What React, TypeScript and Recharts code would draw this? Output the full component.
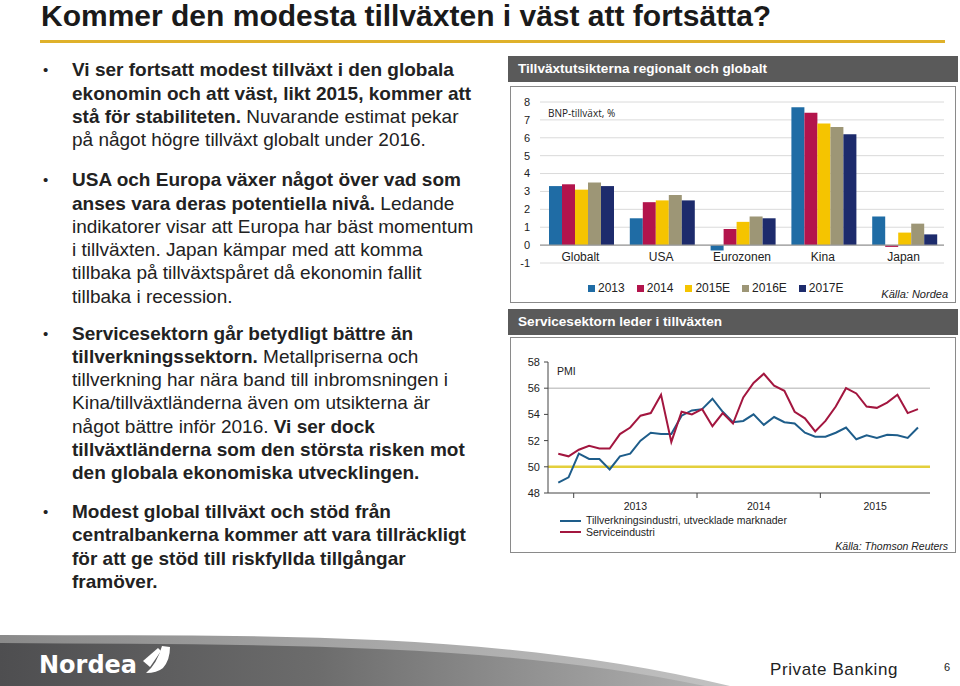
import React from 'react'
import { BarChart, Bar, XAxis, YAxis, CartesianGrid, ReferenceLine, LineChart, Line } from 'recharts'

// GDP growth, % (bar chart)
const regions = ['Globalt', 'USA', 'Eurozonen', 'Kina', 'Japan']
const years = ['2013', '2014', '2015E', '2016E', '2017E']
const yearColors = ['#1f6ca5', '#b3144c', '#f5c400', '#9d9676', '#1d2b6c']
const gdp2013 = [3.3, 1.5, -0.3, 7.7, 1.6]
const gdp2014 = [3.4, 2.4, 0.9, 7.4, -0.1]
const gdp2015E = [3.1, 2.5, 1.3, 6.8, 0.7]
const gdp2016E = [3.5, 2.8, 1.6, 6.6, 1.2]
const gdp2017E = [3.3, 2.5, 1.5, 6.2, 0.6]
const gdpTicks = [-1, 0, 1, 2, 3, 4, 5, 6, 7, 8]

// PMI, monthly (line chart)
const months = [
  '2012-11', '2012-12',
  '2013-01', '2013-02', '2013-03', '2013-04', '2013-05', '2013-06',
  '2013-07', '2013-08', '2013-09', '2013-10', '2013-11', '2013-12',
  '2014-01', '2014-02', '2014-03', '2014-04', '2014-05', '2014-06',
  '2014-07', '2014-08', '2014-09', '2014-10', '2014-11', '2014-12',
  '2015-01', '2015-02', '2015-03', '2015-04', '2015-05', '2015-06',
  '2015-07', '2015-08', '2015-09', '2015-10',
]
const manufacturing = [
  48.8, 49.2, 51.0, 50.6, 50.6, 49.8, 50.8, 51.0, 52.0, 52.6, 52.5, 52.5,
  53.9, 54.3, 54.4, 55.2, 54.2, 53.4, 53.5, 54.0, 53.2, 53.8, 53.4, 53.3,
  52.6, 52.3, 52.3, 52.6, 53.0, 52.1, 52.4, 52.2, 52.45, 52.4, 52.2, 53.0,
]
const services = [
  51.0, 50.8, 51.3, 51.6, 51.4, 51.4, 52.5, 53.0, 53.9, 54.1, 55.5, 51.9,
  54.2, 54.0, 54.4, 53.1, 54.1, 53.3, 55.3, 56.4, 57.1, 56.2, 55.8, 54.2,
  53.7, 52.7, 53.5, 54.6, 56.0, 55.6, 54.6, 54.5, 54.9, 55.5, 54.1, 54.4,
]
const pmiTicks = [48, 50, 52, 54, 56, 58]
const yearLabels = ['2013', '2014', '2015']
const seriesNames = ['Tillverkningsindustri, utvecklade marknader', 'Serviceindustri']
const seriesColors = ['#1e5d8a', '#a3163f']

const gdpRows = regions.map((region, i) => ({
  region,
  y2013: gdp2013[i],
  y2014: gdp2014[i],
  y2015E: gdp2015E[i],
  y2016E: gdp2016E[i],
  y2017E: gdp2017E[i],
}))
const gdpKeys = ['y2013', 'y2014', 'y2015E', 'y2016E', 'y2017E']

const pmiRows = months.map((m, i) => ({ i, m, mfg: manufacturing[i], svc: services[i] }))
const xMin = -1
const xMax = 36.17
const boundaries = yearLabels.map((y) => months.indexOf(`${y}-01`) - 0.5)
const labelPos = boundaries.map((b, k) => ((k < boundaries.length - 1 ? boundaries[k + 1] : xMax) + b) / 2)

const FONT = '"Liberation Sans", Arial, Helvetica, sans-serif'

const CategoryTick = (props: any) => {
  const { x, y, payload } = props
  return (
    <text x={x} y={y - 6} dy="0.35em" textAnchor="middle" fontSize={12} fill="#222" fontFamily={FONT}>
      {payload.value}
    </text>
  )
}

const YearTick = (props: any) => {
  const { x, y, payload } = props
  const v = payload.value
  const k = labelPos.indexOf(v)
  if (k < 0) return <line x1={x} x2={x} y1={y} y2={y + 5} stroke="#444" strokeWidth={1} />
  return (
    <text x={x} y={y + 13} dy="0.35em" textAnchor="middle" fontSize={10.5} fill="#222" fontFamily={FONT}>
      {yearLabels[k]}
    </text>
  )
}

const abs = (left: number, top: number, extra: React.CSSProperties = {}): React.CSSProperties => ({
  position: 'absolute',
  left,
  top,
  ...extra,
})

const B = ({ children }: { children: React.ReactNode }) => <b>{children}</b>

function Bullet({ top, lines }: { top: number; lines: React.ReactNode[] }) {
  return (
    <>
      <div style={abs(43, top, { fontSize: 15, lineHeight: '23.3px', color: '#222' })}>•</div>
      <div style={abs(72, top, { fontSize: 19, lineHeight: '23.3px', color: '#222', whiteSpace: 'nowrap' })}>
        {lines.map((l, i) => (
          <div key={i}>{l}</div>
        ))}
      </div>
    </>
  )
}

function Header({ top, title }: { top: number; title: string }) {
  return (
    <div
      style={abs(508, top, {
        width: 450,
        height: 26,
        background: '#5a5a5a',
        color: '#fff',
        fontWeight: 'bold',
        fontSize: 13.6,
        lineHeight: '26px',
        paddingLeft: 10,
        boxSizing: 'border-box',
      })}
    >
      {title}
    </div>
  )
}

function GdpChart() {
  return (
    <>
      <Header top={56} title="Tillväxtutsikterna regionalt och globalt" />
      <div style={abs(510, 86, { width: 446, height: 217, border: '1px solid #8a8a8a', boxSizing: 'border-box' })} />
      <div style={abs(509, 87)}>
        <BarChart
          width={447}
          height={212}
          data={gdpRows}
          margin={{ top: 15, right: 12, bottom: 0, left: 0 }}
          barCategoryGap={9}
          barGap={0}
        >
          <CartesianGrid vertical={false} stroke="#dadada" />
          <XAxis
            dataKey="region"
            axisLine={false}
            tickLine={false}
            tickSize={0}
            tickMargin={0}
            height={36}
            interval={0}
            tick={(p: any) => <CategoryTick {...p} />}
          />
          <YAxis
            domain={[-1, 8]}
            ticks={gdpTicks}
            interval={0}
            width={31}
            axisLine={false}
            tickLine={false}
            tickSize={0}
            tickMargin={10}
            tick={{ fontSize: 11, fill: '#222', fontFamily: FONT }}
          />
          {gdpKeys.map((k, i) => (
            <Bar key={k} dataKey={k} name={years[i]} fill={yearColors[i]} isAnimationActive={false} />
          ))}
          <ReferenceLine y={0} stroke="#9a9a9a" strokeWidth={1.2} />
        </BarChart>
      </div>
      <div style={abs(548, 106, { fontSize: 10, fontFamily: '"Open Sans", sans-serif', color: '#222' })}>
        BNP-tillväxt, %
      </div>
      <div style={abs(588, 281, { display: 'flex', fontSize: 12, lineHeight: '14px', color: '#222' })}>
        {years.map((y, i) => (
          <div key={y} style={{ display: 'flex', alignItems: 'center', marginRight: 12 }}>
            <span style={{ width: 7, height: 7, background: yearColors[i], marginRight: 3, display: 'inline-block' }} />
            {y}
          </div>
        ))}
      </div>
      <div style={abs(848, 288, { width: 100, textAlign: 'right', fontSize: 11, fontStyle: 'italic', color: '#222' })}>
        Källa: Nordea
      </div>
    </>
  )
}

function PmiChart() {
  return (
    <>
      <Header top={309} title="Servicesektorn leder i tillväxten" />
      <div style={abs(510, 337, { width: 446, height: 216, border: '1px solid #8a8a8a', boxSizing: 'border-box' })} />
      <div style={abs(510, 338)}>
        <LineChart width={446} height={180} data={pmiRows} margin={{ top: 24, right: 26, bottom: 5, left: 0 }}>
          <ReferenceLine y={56} stroke="#c9c9c9" strokeWidth={1.5} />
          <ReferenceLine y={50} stroke="#e3cf3c" strokeWidth={2.5} />
          <XAxis
            type="number"
            dataKey="i"
            domain={[xMin, xMax]}
            ticks={[...boundaries, ...labelPos]}
            interval={0}
            height={20}
            stroke="#444"
            tickLine={false}
            tickSize={0}
            tickMargin={0}
            tick={(p: any) => <YearTick {...p} />}
          />
          <YAxis
            domain={[48, 58]}
            ticks={pmiTicks}
            interval={0}
            width={38}
            stroke="#444"
            tickSize={4}
            tickMargin={4}
            tick={{ fontSize: 11, fill: '#222', fontFamily: FONT }}
          />
          <Line dataKey="mfg" name={seriesNames[0]} stroke={seriesColors[0]} strokeWidth={2} dot={false} isAnimationActive={false} />
          <Line dataKey="svc" name={seriesNames[1]} stroke={seriesColors[1]} strokeWidth={2} dot={false} isAnimationActive={false} />
        </LineChart>
      </div>
      <div style={abs(557, 365, { fontSize: 10.5, color: '#222' })}>PMI</div>
      <div style={abs(560, 515, { fontSize: 10.5, lineHeight: '11.5px', color: '#222' })}>
        {seriesNames.map((n, i) => (
          <div key={n} style={{ display: 'flex', alignItems: 'center' }}>
            <span style={{ width: 21, height: 2, background: seriesColors[i], marginRight: 5, display: 'inline-block' }} />
            {n}
          </div>
        ))}
      </div>
      <div style={abs(798, 540, { width: 150, textAlign: 'right', fontSize: 10.5, fontStyle: 'italic', color: '#222' })}>
        Källa: Thomson Reuters
      </div>
    </>
  )
}

function Footer() {
  return (
    <svg style={abs(0, 620)} width={960} height={66} viewBox="0 620 960 66">
      <defs>
        <linearGradient id="stripe" x1="0" x2="1" y1="0" y2="0">
          <stop offset="0" stopColor="#8a8a8a" />
          <stop offset="1" stopColor="#c2c2c2" />
        </linearGradient>
        <linearGradient id="band" x1="0" x2="1" y1="0" y2="0">
          <stop offset="0" stopColor="#4e4e50" />
          <stop offset="0.45" stopColor="#6c6c6c" />
          <stop offset="1" stopColor="#b0b0b0" />
        </linearGradient>
      </defs>
      <path d="M0,635 C250,636 500,630 730,686 L0,686 Z" fill="url(#stripe)" />
      <path d="M0,643 C250,645 490,641 705,686 L0,686 Z" fill="url(#band)" />
      <text x={39} y={673} fill="#fff" fontSize={24} fontWeight="bold" fontFamily='"DejaVu Sans", sans-serif'>
        Nordea
      </text>
      <path d="M143,661 L158,648 L161,651 L150,667 Z" fill="#fff" />
      <path d="M162,646 L170,647 Q170,660 163,668 Q157,673 146,673 Q157,664 162,646 Z" fill="#fff" />
      <text x={770} y={675} fill="#222" fontSize={17} letterSpacing={0.6} fontFamily={FONT}>
        Private Banking
      </text>
      <text x={944} y={671} fill="#222" fontSize={11} fontFamily={FONT}>
        6
      </text>
    </svg>
  )
}

export default function App() {
  return (
    <div
      style={{
        position: 'absolute',
        left: 0,
        top: 0,
        width: 960,
        height: 686,
        overflow: 'hidden',
        background: '#fff',
        fontFamily: FONT,
      }}
    >
      <div style={abs(41, -2, { fontSize: 30, fontWeight: 'bold', color: '#1a1a1a', whiteSpace: 'nowrap', lineHeight: '36px' })}>
        Kommer den modesta tillväxten i väst att fortsätta?
      </div>
      <div style={abs(40, 39.5, { width: 905, height: 3, background: '#dfb12a' })} />

      <Bullet
        top={58.3}
        lines={[
          <B>Vi ser fortsatt modest tillväxt i den globala</B>,
          <B>ekonomin och att väst, likt 2015, kommer att</B>,
          <>
            <B>stå för stabiliteten.</B> Nuvarande estimat pekar
          </>,
          'på något högre tillväxt globalt under 2016.',
        ]}
      />
      <Bullet
        top={168.3}
        lines={[
          <B>USA och Europa växer något över vad som</B>,
          <>
            <B>anses vara deras potentiella nivå.</B> Ledande
          </>,
          'indikatorer visar att Europa har bäst momentum',
          'i tillväxten. Japan kämpar med att komma',
          'tillbaka på tillväxtspåret då ekonomin fallit',
          'tillbaka i recession.',
        ]}
      />
      <Bullet
        top={321.6}
        lines={[
          <B>Servicesektorn går betydligt bättre än</B>,
          <>
            <B>tillverkningssektorn.</B> Metallpriserna och
          </>,
          'tillverkning har nära band till inbromsningen i',
          'Kina/tillväxtländerna även om utsikterna är',
          <>
            något bättre inför 2016. <B>Vi ser dock</B>
          </>,
          <B>tillväxtländerna som den största risken mot</B>,
          <B>den globala ekonomiska utvecklingen.</B>,
        ]}
      />
      <Bullet
        top={500}
        lines={[
          <B>Modest global tillväxt och stöd från</B>,
          <B>centralbankerna kommer att vara tillräckligt</B>,
          <B>för att ge stöd till riskfyllda tillgångar</B>,
          <B>framöver.</B>,
        ]}
      />

      <GdpChart />
      <PmiChart />
      <Footer />
    </div>
  )
}
